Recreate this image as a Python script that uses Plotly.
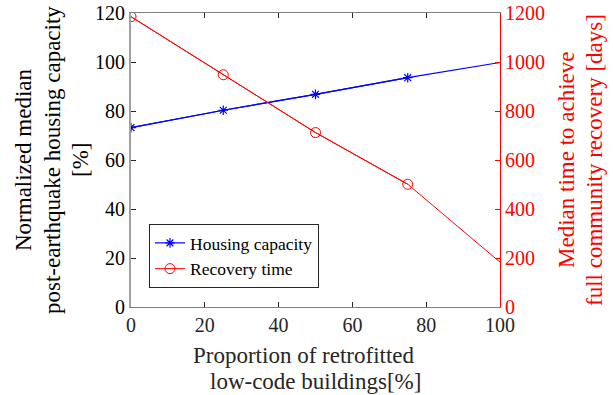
import plotly.graph_objects as go

proportion = [0, 25, 50, 75, 100]
housing_capacity = [73.2, 80.3, 86.8, 93.6, 99.8]
recovery_time = [1185, 948, 712, 501, 183]
n_marked = 4  # markers are drawn at the first four points only

left_ticks = [0, 20, 40, 60, 80, 100, 120]
right_ticks = [0, 200, 400, 600, 800, 1000, 1200]
x_ticks = [0, 20, 40, 60, 80, 100]

left_title = ["Normalized median", "post-earthquake housing capacity", "[%]"]
right_title = ["Median time to achieve", "full community recovery [days]"]
x_title = ["Proportion of retrofitted", "low-code buildings[%]"]

FONT = "Liberation Serif, Times New Roman, serif"
W, H = 613, 395
L, R, T, B = 131, 113, 13, 88
PW, PH = W - L - R, H - T - B

def px_x(x):
    return (x - L) / PW

def px_y(y):
    return (H - B - y) / PH

fig = go.Figure()
# full lines
fig.add_trace(go.Scatter(
    x=proportion, y=housing_capacity, mode="lines", showlegend=False,
    legendgroup="h", line=dict(color="#0000ff", width=1.2), hoverinfo="skip",
))
fig.add_trace(go.Scatter(
    x=proportion, y=recovery_time, yaxis="y2", mode="lines", showlegend=False,
    legendgroup="r", line=dict(color="#ff0000", width=1), hoverinfo="skip",
))
# marked points
fig.add_trace(go.Scatter(
    x=proportion[:n_marked], y=housing_capacity[:n_marked], name="Housing capacity",
    legendgroup="h", mode="lines+markers", line=dict(color="#0000ff", width=1.2),
    marker=dict(symbol="asterisk-open", size=8, color="#0000ff",
                line=dict(width=1.2, color="#0000ff")),
    cliponaxis=True,
))
fig.add_trace(go.Scatter(
    x=proportion[:n_marked], y=recovery_time[:n_marked], name="Recovery time", yaxis="y2",
    legendgroup="r", mode="lines+markers", line=dict(color="#ff0000", width=1),
    marker=dict(symbol="circle-open", size=10, color="#ff0000",
                line=dict(width=1, color="#ff0000")),
    cliponaxis=True,
))

annotations = []
left_x = [23, 52, 80]
for txt, xp in zip(left_title, left_x):
    annotations.append(dict(text=txt, xref="paper", yref="paper", x=px_x(xp), y=px_y(160),
                            xanchor="center", yanchor="middle", textangle=-90, showarrow=False,
                            font=dict(family=FONT, size=23, color="#000000")))
right_x = [566, 594]
for txt, xp in zip(right_title, right_x):
    annotations.append(dict(text=txt, xref="paper", yref="paper", x=px_x(xp), y=px_y(160),
                            xanchor="center", yanchor="middle", textangle=-90, showarrow=False,
                            font=dict(family=FONT, size=23, color="#ff0000")))
x_pos = [(304, 355), (315, 381)]
for txt, (xp, yp) in zip(x_title, x_pos):
    annotations.append(dict(text=txt, xref="paper", yref="paper", x=px_x(xp), y=px_y(yp),
                            xanchor="center", yanchor="middle", showarrow=False,
                            font=dict(family=FONT, size=23, color="#262626")))

fig.update_layout(
    width=W, height=H,
    margin=dict(l=L, r=R, t=T, b=B, autoexpand=False),
    paper_bgcolor="white", plot_bgcolor="white",
    font=dict(family=FONT, size=20, color="#262626"),
    showlegend=True,
    annotations=annotations,
    legend=dict(x=px_x(149), y=px_y(224), xanchor="left", yanchor="top",
                bordercolor="#262626", borderwidth=1, bgcolor="white",
                font=dict(family=FONT, size=17.5, color="#000000"),
                tracegroupgap=0, itemwidth=30),
    xaxis=dict(range=[0, 100], tickvals=x_ticks, ticks="inside", ticklen=5,
               showline=True, linecolor="#808080", linewidth=1, mirror="ticks",
               tickcolor="#262626", automargin=False,
               showgrid=False, zeroline=False,
               tickfont=dict(family=FONT, size=20, color="#262626")),
    yaxis=dict(range=[0, 120], tickvals=left_ticks, ticks="inside", ticklen=5,
               showline=True, linecolor="#a0a0a0", linewidth=2, automargin=False,
               tickcolor="#262626",
               showgrid=False, zeroline=False,
               tickfont=dict(family=FONT, size=20, color="#000000")),
    yaxis2=dict(range=[0, 1200], tickvals=right_ticks, ticks="inside", ticklen=5,
                overlaying="y", side="right", anchor="x", automargin=False,
                showline=True, linecolor="#ff0000", linewidth=1,
                showgrid=False, zeroline=False, tickcolor="#ff0000",
                tickfont=dict(family=FONT, size=20, color="#ff0000")),
)

fig.write_html("out.html", config={"displayModeBar": False},
               post_script="document.body.style.margin='0';")
